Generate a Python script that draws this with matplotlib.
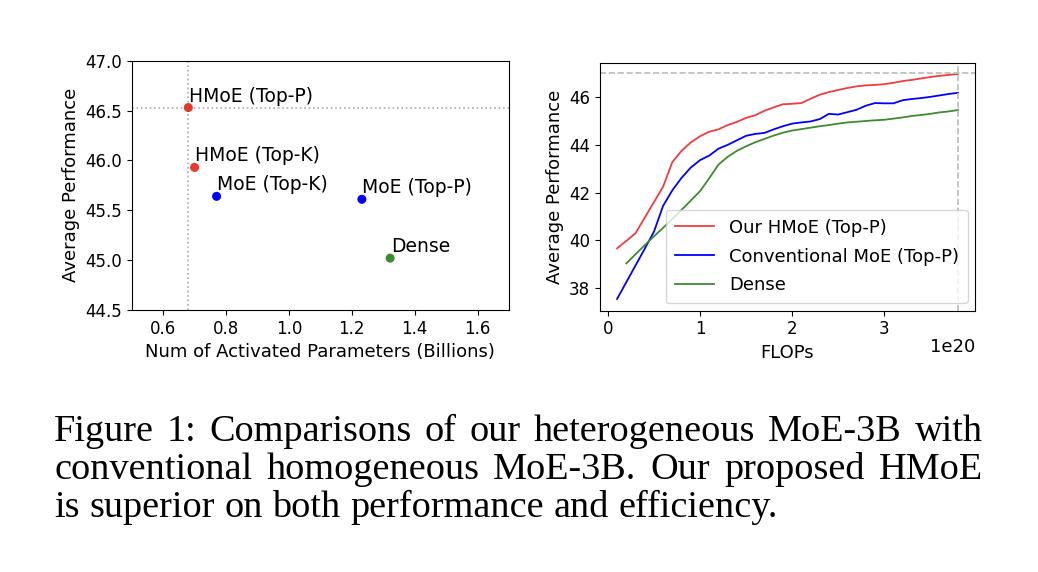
import numpy as np
import matplotlib
matplotlib.use("Agg")
import matplotlib.pyplot as plt

# left panel: activated params (B) vs avg performance
model_names = ['HMoE (Top-P)', 'HMoE (Top-K)', 'MoE (Top-K)', 'MoE (Top-P)', 'Dense']
act_params = [0.68, 0.70, 0.77, 1.232, 1.322]
avg_perf = [46.53, 45.93, 45.64, 45.61, 45.02]
point_colors = ['#e0392c', '#e8392c', 'blue', 'blue', '#3c8c2f']

# right panel: FLOPs (1e20) curves
flops = [round(0.1 * i, 1) for i in range(1, 39)]
hmoe_curve = [39.67, 39.98, 40.30, 40.95, 41.60, 42.25, 43.28, 43.75, 44.10, 44.36,
              44.55, 44.65, 44.83, 44.96, 45.13, 45.24, 45.43, 45.57, 45.70, 45.72,
              45.75, 45.93, 46.10, 46.21, 46.30, 46.38, 46.45, 46.49, 46.51, 46.54,
              46.60, 46.67, 46.72, 46.78, 46.84, 46.89, 46.93, 46.97]
moe_curve = [37.55, 38.25, 38.95, 39.65, 40.36, 41.45, 42.10, 42.62, 43.05, 43.36,
             43.55, 43.84, 44.00, 44.19, 44.38, 44.46, 44.50, 44.65, 44.78, 44.89,
             44.94, 44.98, 45.08, 45.30, 45.27, 45.37, 45.47, 45.64, 45.75, 45.74,
             45.74, 45.87, 45.92, 45.96, 46.01, 46.07, 46.13, 46.18]
dense_flops = flops[1:]
dense_curve = [39.04, 39.42, 39.80, 40.17, 40.53, 40.90, 41.28, 41.67, 42.06,
               42.60, 43.17, 43.50, 43.75, 43.94, 44.11, 44.25, 44.39, 44.51, 44.60,
               44.66, 44.72, 44.78, 44.83, 44.89, 44.94, 44.97, 45.00, 45.03, 45.05,
               45.10, 45.15, 45.21, 45.25, 45.30, 45.36, 45.40, 45.46]

caption_lines = ['Figure 1: Comparisons of our heterogeneous MoE-3B with',
                 'conventional homogeneous MoE-3B. Our proposed HMoE',
                 'is superior on both performance and efficiency.']

W, H = 1038, 572
fig = plt.figure(figsize=(W / 100, H / 100), dpi=100)

# ---- left scatter
ax1 = fig.add_axes([131.7 / W, 1 - 310 / H, 377.3 / W, 249.3 / H])
ax1.axvline(act_params[0], color='#aaaaaa', ls=':', lw=1.2, zorder=1)
ax1.axhline(avg_perf[0], color='#aaaaaa', ls=':', lw=1.2, zorder=1)
ax1.scatter(act_params, avg_perf, c=point_colors, s=30, zorder=3)
for name, x, y in zip(model_names, act_params, avg_perf):
    ax1.text(x + 0.002, y + 0.02, name, fontsize=13.5, va='bottom', ha='left')
ax1.set_xlim(0.5, 1.7)
ax1.set_ylim(44.5, 47.0)
ax1.set_xticks([0.6, 0.8, 1.0, 1.2, 1.4, 1.6])
ax1.set_yticks([44.5, 45.0, 45.5, 46.0, 46.5, 47.0])
ax1.tick_params(labelsize=12)
ax1.set_xlabel('Num of Activated Parameters (Billions)', fontsize=13)
ax1.set_ylabel('Average Performance', fontsize=13)

# ---- right curves
ax2 = fig.add_axes([600 / W, 1 - 310.7 / H, 375 / W, 248 / H])
ax2.plot(flops, hmoe_curve, color='#f03c3c', lw=1.3, label='Our HMoE (Top-P)')
ax2.plot(flops, moe_curve, color='blue', lw=1.3, label='Conventional MoE (Top-P)')
ax2.plot(dense_flops, dense_curve, color='#3c8c2f', lw=1.3, label='Dense')
ax2.axhline(47.0, color='#bbbbbb', ls='--', lw=1.2)
ax2.axvline(flops[-1], color='#bbbbbb', ls='--', lw=1.2)
ax2.set_xlim(-0.085, 3.985)
ax2.set_ylim(37.06, 47.44)
ax2.set_xticks([0, 1, 2, 3])
ax2.set_xticklabels(['0', '1', '2', '3'])
ax2.set_yticks([38, 40, 42, 44, 46])
ax2.tick_params(labelsize=12)
ax2.set_xlabel('FLOPs', fontsize=13)
ax2.set_ylabel('Average Performance', fontsize=13)
ax2.text(1.0, -0.11, '1e20', transform=ax2.transAxes, ha='right', va='top', fontsize=13)
ax2.legend(loc='lower right', fontsize=13, handlelength=2.2, labelspacing=0.6,
           borderaxespad=0.4, borderpad=0.5)

# ---- caption (justified)
cap_size = 27.5
fig.canvas.draw()
r = fig.canvas.get_renderer()
x0, x1 = 54, 983
baselines = [441, 479, 517]
probe1 = fig.text(0, 0, 'a b', fontsize=cap_size, family='Liberation Serif')
probe2 = fig.text(0, 0, 'ab', fontsize=cap_size, family='Liberation Serif')
space_w = probe1.get_window_extent(r).width - probe2.get_window_extent(r).width
probe1.remove()
probe2.remove()
for i, line in enumerate(caption_lines):
    words = line.split()
    texts = [fig.text(0, 0, w, fontsize=cap_size, family='Liberation Serif', va='baseline')
             for w in words]
    widths = [t.get_window_extent(r).width for t in texts]
    if i < len(caption_lines) - 1:
        gap = (x1 - x0 - sum(widths)) / (len(words) - 1)
    else:
        gap = space_w
    x = x0
    for t, w in zip(texts, widths):
        t.set_position((x / W, 1 - baselines[i] / H))
        x += w + gap

fig.savefig('out.png', dpi=100)
